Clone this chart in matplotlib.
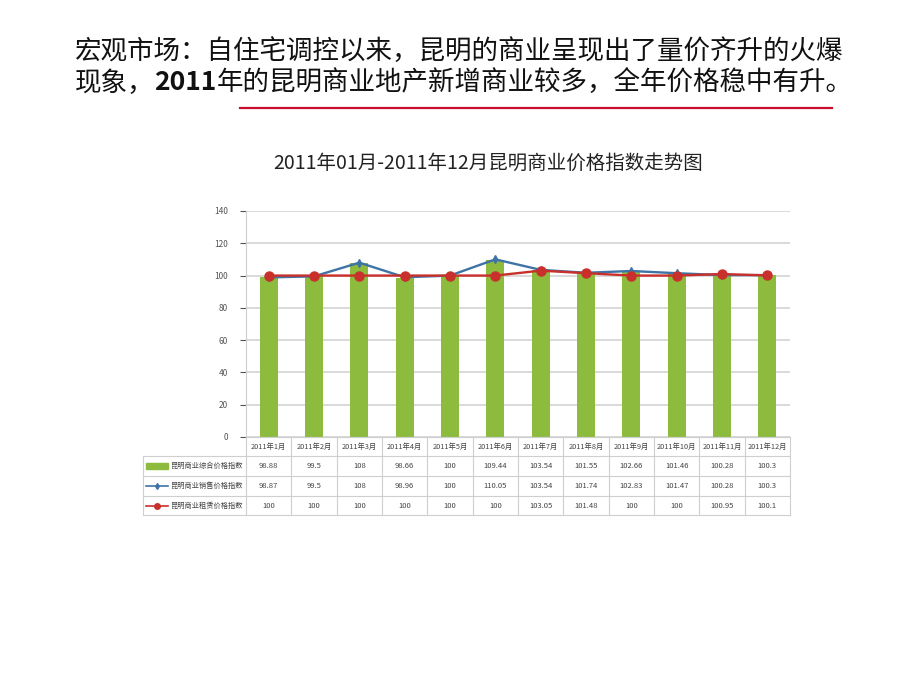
import numpy as np
import matplotlib
matplotlib.use('Agg')
import matplotlib.pyplot as plt
from matplotlib.patches import Rectangle
from matplotlib.lines import Line2D

plt.rcParams['font.family'] = ['Noto Sans CJK SC', 'DejaVu Sans']

# data
months = ['2011年%d月' % m for m in range(1, 13)]
series_names = ['昆明商业综合价格指数', '昆明商业销售价格指数', '昆明商业租赁价格指数']
composite = [98.88, 99.5, 108, 98.66, 100, 109.44, 103.54, 101.55, 102.66, 101.46, 100.28, 100.3]
sales = [98.87, 99.5, 108, 98.96, 100, 110.05, 103.54, 101.74, 102.83, 101.47, 100.28, 100.3]
rent = [100, 100, 100, 100, 100, 100, 103.05, 101.48, 100, 100, 100.95, 100.1]
y_ticks = [0, 20, 40, 60, 80, 100, 120, 140]

green = '#8cbb3d'
blue = '#3f73a6'
red = '#c9302c'
grid_c = '#cfcfcf'

W, H = 920, 690
fig = plt.figure(figsize=(W / 100, H / 100), dpi=100)

# plot area in pixels (from top-left)
px_l, px_r, px_t, px_b = 246, 790, 211, 437
ax = fig.add_axes([px_l / W, 1 - px_b / H, (px_r - px_l) / W, (px_b - px_t) / H])

x = np.arange(len(months))
ax.bar(x, composite, width=0.4, color=green, zorder=2)
ax.plot(x, sales, color=blue, lw=1.7, marker='d', ms=4, zorder=3)
ax.plot(x, rent, color=red, lw=1.7, marker='o', ms=6.5, zorder=4)

ax.set_xlim(-0.5, len(months) - 0.5)
ax.set_ylim(0, 140)
ax.set_yticks(y_ticks)
ax.set_xticks([])
ax.yaxis.grid(True, color=grid_c, lw=1.1, zorder=0)
ax.tick_params(axis='y', labelsize=6, colors='#555555', length=4, pad=9)
for s in ['top', 'right']:
    ax.spines[s].set_visible(False)
ax.spines['left'].set_color(grid_c)
ax.spines['bottom'].set_color(grid_c)


def ax_x(px):
    return (px - px_l) / (px_r - px_l)


def ax_y(py):
    return (px_b - py) / (px_b - px_t)


def hline(x0, x1, py):
    ax.add_line(Line2D([ax_x(x0), ax_x(x1)], [ax_y(py)] * 2, transform=ax.transAxes,
                       color=grid_c, lw=0.8, clip_on=False))


def vline(px, y0, y1):
    ax.add_line(Line2D([ax_x(px)] * 2, [ax_y(y0), ax_y(y1)], transform=ax.transAxes,
                       color=grid_c, lw=0.8, clip_on=False))


# data table under the chart, drawn by hand
tb_left = 143
rows_px = [437, 456, 476, 496, 515]
col_w = (px_r - px_l) / len(months)
col_edges = [px_l + i * col_w for i in range(len(months) + 1)]

hline(px_l, px_r, rows_px[0])
for py in rows_px[1:]:
    hline(tb_left, px_r, py)
for px in col_edges:
    vline(px, rows_px[0], rows_px[-1])
vline(tb_left, rows_px[1], rows_px[-1])

for j, m in enumerate(months):
    cx = ax_x(px_l + (j + 0.5) * col_w)
    ax.text(cx, ax_y((rows_px[0] + rows_px[1]) / 2), m, transform=ax.transAxes,
            ha='center', va='center', fontsize=5.3, color='#444444')
    for i, row in enumerate((composite, sales, rent)):
        ax.text(cx, ax_y((rows_px[i + 1] + rows_px[i + 2]) / 2), '%g' % row[j],
                transform=ax.transAxes, ha='center', va='center', fontsize=5.5, color='#444444')

# row labels with legend swatches
sx0, sx1 = 146, 168
for i, name in enumerate(series_names):
    cy = (rows_px[i + 1] + rows_px[i + 2]) / 2
    ax.text(ax_x(sx1 + 2), ax_y(cy), name, transform=ax.transAxes,
            ha='left', va='center', fontsize=5.2, color='#444444')
cy = [(rows_px[i + 1] + rows_px[i + 2]) / 2 for i in range(3)]
ax.add_patch(Rectangle((ax_x(sx0), ax_y(cy[0] + 3)), ax_x(sx1) - ax_x(sx0), ax_y(cy[0] - 3) - ax_y(cy[0] + 3),
                       transform=ax.transAxes, color=green, clip_on=False))
mid = (ax_x(sx0) + ax_x(sx1)) / 2
ax.add_line(Line2D([ax_x(sx0), mid, ax_x(sx1)], [ax_y(cy[1])] * 3, transform=ax.transAxes,
                   color=blue, lw=1.2, marker='d', ms=3, markevery=[1], clip_on=False))
ax.add_line(Line2D([ax_x(sx0), mid, ax_x(sx1)], [ax_y(cy[2])] * 3, transform=ax.transAxes,
                   color=red, lw=1.2, marker='o', ms=4, markevery=[1], clip_on=False))

# chart title
fig.text(488 / W, 1 - 163 / H, '2011年01月-2011年12月昆明商业价格指数走势图',
         ha='center', va='center', fontsize=14, color='#222222')

# slide header text
fs = 19.1
fig.text(75 / W, 1 - 52 / H, '宏观市场：自住宅调控以来，昆明的商业呈现出了量价齐升的火爆',
         ha='left', va='center', fontsize=fs, color='#111111')
renderer = fig.canvas.get_renderer()
cur = 75
for piece, weight in [('现象，', 'normal'), ('2011', 'bold'),
                      ('年的昆明商业地产新增商业较多，全年价格稳中有升。', 'normal')]:
    t = fig.text(cur / W, 1 - 83 / H, piece, ha='left', va='center', fontsize=fs,
                 fontweight=weight, color='#111111')
    cur += t.get_window_extent(renderer).width

fig.add_artist(Line2D([240 / W, 832 / W], [1 - 108 / H] * 2, color='#c8102e', lw=1.6))

fig.savefig('out.png', dpi=100)
